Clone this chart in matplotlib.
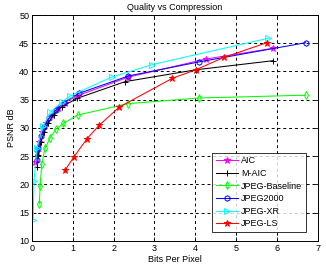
import matplotlib
matplotlib.use("Agg")
import matplotlib.pyplot as plt

plt.rcParams['font.family'] = ['Liberation Sans', 'DejaVu Sans']

aic_x = [0.08, 0.13, 0.18, 0.25, 0.35, 0.48, 0.65, 0.80, 1.11, 2.36, 4.25, 5.89]
aic_y = [23.9, 25.8, 27.5, 29.2, 30.8, 32.3, 33.6, 34.5, 35.7, 39.0, 42.2, 44.1]

maic_x = [0.13, 0.16, 0.22, 0.30, 0.40, 0.53, 0.73, 1.11, 2.28, 4.01, 5.89]
maic_y = [23.1, 25.2, 27.5, 29.3, 30.9, 32.3, 33.75, 35.25, 38.2, 40.3, 41.9]

jpb_x = [0.18, 0.20, 0.24, 0.32, 0.45, 0.59, 0.77, 1.13, 2.35, 4.09, 6.70]
jpb_y = [16.5, 19.7, 23.6, 26.4, 28.3, 29.8, 30.8, 32.3, 34.3, 35.3, 35.8]

j2k_x = [0.12, 0.16, 0.22, 0.30, 0.41, 0.59, 0.78, 1.14, 2.36, 4.09, 6.70]
j2k_y = [24.3, 26.5, 28.5, 30.2, 31.7, 33.2, 34.5, 36.1, 39.2, 41.7, 45.1]

jxr_x = [0.03, 0.05, 0.12, 0.28, 0.45, 0.73, 0.94, 1.95, 2.93, 5.79]
jxr_y = [13.7, 20.6, 26.4, 30.4, 32.8, 34.6, 35.7, 39.0, 41.2, 45.9]

jls_x = [0.81, 1.02, 1.35, 1.65, 2.14, 3.44, 4.01, 4.70, 5.75]
jls_y = [22.5, 24.8, 28.1, 30.5, 33.7, 38.8, 40.3, 42.5, 45.1]

series = [
    ("AIC", aic_x, aic_y, "#FF00FF", "*"),
    ("M-AIC", maic_x, maic_y, "#000000", "+"),
    ("JPEG-Baseline", jpb_x, jpb_y, "#00FF00", "d"),
    ("JPEG2000", j2k_x, j2k_y, "#0000FF", "h"),
    ("JPEG-XR", jxr_x, jxr_y, "#00FFFF", ">"),
    ("JPEG-LS", jls_x, jls_y, "#FF0000", "*"),
]

fig = plt.figure(figsize=(3.26, 2.69), dpi=100)
ax = fig.add_axes([0.098, 0.105, 0.877, 0.839])

for name, xs, ys, c, m in series:
    filled = m in ("*", "+")
    ax.plot(xs, ys, color=c, marker=m, markersize=4 if m != "*" else 4.5,
            markerfacecolor=c if filled else "none", markeredgecolor=c,
            linewidth=0.75, markeredgewidth=0.7, label=name)

ax.set_xlim(0, 7)
ax.set_ylim(10, 50)
ax.set_xticks(range(0, 8))
ax.set_yticks(range(10, 51, 5))
ax.grid(True, color="black", linestyle=(0, (3, 3)), linewidth=0.7)
ax.tick_params(direction="in", labelsize=6.5, length=3, width=0.6, pad=2,
               top=True, right=True)
for s in ax.spines.values():
    s.set_linewidth(0.7)
ax.set_title("Quality vs Compression", fontsize=6.5, pad=4)
ax.set_xlabel("Bits Per Pixel", fontsize=6.5, labelpad=2)
ax.set_ylabel("PSNR dB", fontsize=6.5, labelpad=2)

leg = ax.legend(loc="lower right", bbox_to_anchor=(0.958, 0.0385), fontsize=6.5,
                frameon=True, fancybox=False, edgecolor="black",
                borderpad=0.4, labelspacing=0.4, handlelength=2.5,
                handletextpad=0.3, borderaxespad=0.0)
leg.get_frame().set_linewidth(0.7)

fig.savefig("out.png", dpi=100, facecolor="white")
